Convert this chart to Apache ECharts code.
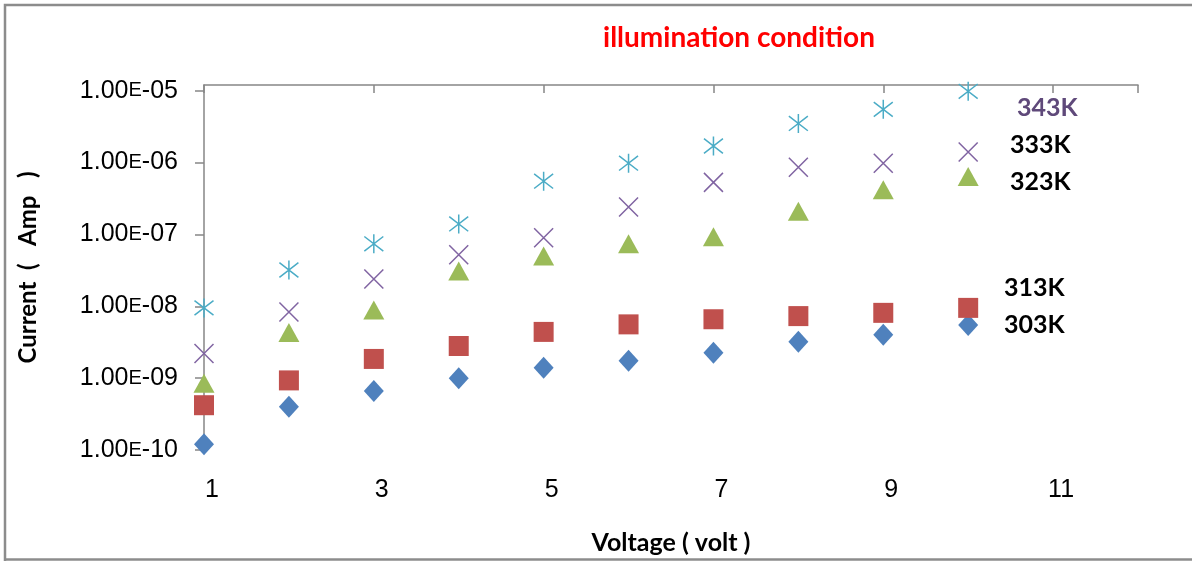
<!DOCTYPE html>
<html>
<head>
<meta charset="utf-8">
<script src="https://cdn.jsdelivr.net/npm/echarts@6/dist/echarts.min.js"></script>
<style>
html,body{margin:0;padding:0;background:#fff;}
#chart{width:1192px;height:561px;}
</style>
</head>
<body>
<div id="chart"></div>
<script>
// Data
var voltage = [1, 2, 3, 4, 5, 6, 7, 8, 9, 10];
var xTickLabels = ['1', '3', '5', '7', '9', '11'];
var seriesNames = ['303K', '313K', '323K', '333K', '343K'];
var i303 = [1.2e-10, 4.0e-10, 6.6e-10, 1.0e-9, 1.4e-9, 1.75e-9, 2.25e-9, 3.2e-9, 4.0e-9, 5.5e-9];
var i313 = [4.2e-10, 9.3e-10, 1.85e-9, 2.8e-9, 4.4e-9, 5.6e-9, 6.6e-9, 7.3e-9, 8.1e-9, 9.5e-9];
var i323 = [8.5e-10, 4.3e-9, 8.9e-9, 3.1e-8, 5.0e-8, 7.4e-8, 9.3e-8, 2.1e-7, 4.2e-7, 6.4e-7];
var i333 = [2.2e-9, 8.3e-9, 2.4e-8, 5.2e-8, 9.0e-8, 2.4e-7, 5.3e-7, 8.6e-7, 9.8e-7, 1.4e-6];
var i343 = [9.5e-9, 3.2e-8, 7.4e-8, 1.4e-7, 5.5e-7, 9.8e-7, 1.7e-6, 3.5e-6, 5.5e-6, 9.8e-6];

function pairs(ys) { return voltage.map(function (v, k) { return [v, ys[k]]; }); }

var chart = echarts.init(document.getElementById('chart'));
var axisGray = '#868686';
var xPath = 'path://M0,0 L10,10 M10,0 L0,10';
var starPath = 'path://M0,0 L10,10 M10,0 L0,10 M5,-1.5 L5,11.5';

function seriesLabel(text, x, y, color) {
  return {
    type: 'text', x: x, y: y, silent: true,
    style: {
      text: text, fill: color, fontFamily: 'Lato', fontWeight: 'bold', fontSize: 25,
      align: 'left', verticalAlign: 'middle'
    }
  };
}

var option = {
  animation: false,
  backgroundColor: '#fff',
  title: {
    text: 'illumination condition',
    left: 734, top: 19, textAlign: 'center',
    textStyle: { color: '#ff0000', fontFamily: 'Lato', fontWeight: 'bold', fontSize: 28 }
  },
  grid: { left: 204, top: 85, right: 54, bottom: 111 },
  xAxis: [{
    type: 'value', min: 1, max: 12, interval: 2, position: 'bottom',
    axisLine: { show: false }, axisTick: { show: false }, splitLine: { show: false },
    axisLabel: {
      margin: 28, fontFamily: 'Liberation Sans', fontSize: 25, color: '#000',
      padding: [0, 0, 0, 16],
      formatter: function (v) { var s = String(v); return xTickLabels.indexOf(s) >= 0 ? s : ''; },
      showMaxLabel: false
    },
    name: 'Voltage ( volt )', nameLocation: 'middle', nameGap: 80,
    nameTextStyle: { fontFamily: 'Lato', fontWeight: 'bold', fontSize: 25, color: '#000' }
  }, {
    type: 'value', min: 1, max: 12, interval: 2, position: 'top',
    axisLine: { show: true, lineStyle: { color: axisGray, width: 1.5 } },
    axisTick: { show: true, inside: true, length: 8, lineStyle: { color: axisGray, width: 1.5 } },
    axisLabel: { show: false }, splitLine: { show: false }
  }],
  yAxis: {
    type: 'log', logBase: 10, min: 1e-10, max: 1.2e-5,
    axisLine: { show: true, lineStyle: { color: axisGray, width: 1.5 } },
    axisTick: { show: true, length: 9, lineStyle: { color: axisGray, width: 1.5 } },
    splitLine: { show: false },
    axisLabel: {
      margin: 26, color: '#000', fontFamily: 'Liberation Sans', fontSize: 25,
      showMaxLabel: false,
      formatter: function (v) {
        var e = Math.round(Math.log10(v));
        if (Math.abs(Math.log10(v) - e) > 1e-6) return '';
        var ex = Math.abs(e); var es = (ex < 10 ? '0' : '') + ex;
        return '{d|1.00}{e|E}{d|-' + es + '}';
      },
      rich: {
        d: { fontFamily: 'Liberation Sans', fontSize: 25, color: '#000' },
        e: { fontFamily: 'Liberation Sans', fontSize: 20, color: '#000' }
      }
    },
    name: 'Current  (   Amp   )', nameLocation: 'middle', nameGap: 164, nameRotate: 90,
    nameTextStyle: { fontFamily: 'Lato', fontWeight: 'bold', fontSize: 24, color: '#000' }
  },
  series: [{
    name: seriesNames[0], type: 'scatter', data: pairs(i303),
    symbol: 'diamond', symbolSize: [20, 22],
    itemStyle: { color: '#4F81BD', opacity: 1 }
  }, {
    name: seriesNames[1], type: 'scatter', data: pairs(i313),
    symbol: 'rect', symbolSize: 20,
    itemStyle: { color: '#C0504D', opacity: 1 }
  }, {
    name: seriesNames[2], type: 'scatter', data: pairs(i323),
    symbol: 'triangle', symbolSize: [21, 19],
    itemStyle: { color: '#9BBB59', opacity: 1 }
  }, {
    name: seriesNames[3], type: 'scatter', data: pairs(i333),
    symbol: xPath, symbolSize: 19,
    itemStyle: { color: 'none', borderColor: '#8064A2', borderWidth: 1.5, opacity: 1 }
  }, {
    name: seriesNames[4], type: 'scatter', data: pairs(i343),
    symbol: starPath, symbolSize: 19,
    itemStyle: { color: 'none', borderColor: '#4BACC6', borderWidth: 1.5, opacity: 1 }
  }],
  graphic: [{
    type: 'polyline', silent: true,
    shape: { points: [[5, 561], [5, 5], [1192, 5]] },
    style: { stroke: '#8c8c8c', lineWidth: 2.5, fill: null }
  }, {
    type: 'line', silent: true,
    shape: { x1: 5, y1: 559.5, x2: 1192, y2: 559.5 },
    style: { stroke: '#8c8c8c', lineWidth: 2.5 }
  },
    seriesLabel(seriesNames[4], 1017, 108, '#5F497A'),
    seriesLabel(seriesNames[3], 1010, 145, '#000'),
    seriesLabel(seriesNames[2], 1010, 182, '#000'),
    seriesLabel(seriesNames[1], 1004, 288, '#000'),
    seriesLabel(seriesNames[0], 1004, 325, '#000')
  ]
};
chart.setOption(option);
</script>
</body>
</html>
